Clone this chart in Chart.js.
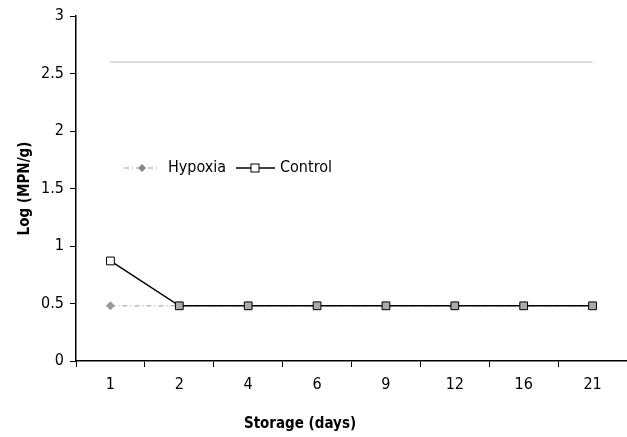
<!DOCTYPE html>
<html>
<head>
<meta charset="utf-8">
<script src="https://cdn.jsdelivr.net/npm/chart.js@4.4.0/dist/chart.umd.min.js"></script>
<style>
  html, body { margin: 0; padding: 0; background: #fff; overflow: hidden; }
  #wrap { width: 627px; height: 437px; position: relative; }
  canvas { display: block; }
</style>
</head>
<body>
<div id="wrap"><canvas id="chart"></canvas></div>
<script>
// data
const days = ['1', '2', '4', '6', '9', '12', '16', '21'];
const hypoxia = [0.48, 0.48, 0.48, 0.48, 0.48, 0.48, 0.48, 0.48];
const control = [0.87, 0.48, 0.48, 0.48, 0.48, 0.48, 0.48, 0.48];
const limitLine = [2.6, 2.6, 2.6, 2.6, 2.6, 2.6, 2.6, 2.6];
const yTicks = [0, 0.5, 1, 1.5, 2, 2.5, 3];

const FONT = "'Liberation Sans Narrow', 'Arial Narrow', 'DejaVu Sans Condensed', sans-serif";

// legend + x title drawn inside the canvas
const extras = {
    id: 'extras',
    afterDraw(chart) {
        const ctx = chart.ctx;
        const a = chart.chartArea;
        const y = 168;
        ctx.save();
        // Hypoxia sample
        ctx.strokeStyle = '#999';
        ctx.lineWidth = 1;
        ctx.setLineDash([5, 3, 1, 3]);
        ctx.beginPath();
        ctx.moveTo(a.left + 48, y);
        ctx.lineTo(a.left + 84, y);
        ctx.stroke();
        ctx.setLineDash([]);
        ctx.fillStyle = '#888';
        ctx.beginPath();
        ctx.moveTo(a.left + 66, y - 4); ctx.lineTo(a.left + 70, y);
        ctx.lineTo(a.left + 66, y + 4); ctx.lineTo(a.left + 62, y);
        ctx.closePath(); ctx.fill();
        ctx.fillStyle = '#000';
        ctx.font = '16px ' + FONT;
        ctx.textBaseline = 'middle';
        ctx.fillText('Hypoxia', a.left + 92, y);
        // Control sample
        ctx.strokeStyle = '#000';
        ctx.lineWidth = 1.5;
        ctx.beginPath();
        ctx.moveTo(a.left + 160, y);
        ctx.lineTo(a.left + 199, y);
        ctx.stroke();
        ctx.fillStyle = '#fff';
        ctx.fillRect(a.left + 175, y - 4, 8, 8);
        ctx.lineWidth = 1;
        ctx.strokeRect(a.left + 175, y - 4, 8, 8);
        ctx.fillStyle = '#000';
        ctx.fillText('Control', a.left + 204, y);
        // x axis title
        ctx.font = 'bold 15px ' + FONT;
        ctx.textAlign = 'center';
        ctx.fillText('Storage (days)', 300, 424);
        ctx.restore();
    }
};

new Chart(document.getElementById('chart'), {
    type: 'line',
    data: {
        labels: days,
        datasets: [
            {
                label: 'Control',
                data: control,
                borderColor: '#000',
                borderWidth: 1.5,
                pointStyle: 'rect',
                pointRadius: 5.5,
                pointBorderColor: '#000',
                pointBorderWidth: 1,
                pointBackgroundColor: ctx => (control[ctx.dataIndex] === hypoxia[ctx.dataIndex] ? '#aaa' : '#fff'),
                tension: 0
            },
            {
                label: 'Hypoxia',
                data: hypoxia,
                borderColor: '#999',
                borderWidth: 1,
                borderDash: [5, 3, 1, 3],
                pointStyle: 'rectRot',
                pointRadius: 4,
                pointBorderColor: '#999',
                pointBackgroundColor: '#999',
                tension: 0
            },
            {
                label: 'limit',
                data: limitLine,
                borderColor: '#dcdcdc',
                borderWidth: 2,
                pointRadius: 0,
                tension: 0
            }
        ]
    },
    options: {
        responsive: true,
        maintainAspectRatio: false,
        animation: false,
        layout: { autoPadding: false, padding: { top: 16, right: 0, bottom: 0, left: 0 } },
        plugins: { legend: { display: false }, tooltip: { enabled: false } },
        scales: {
            x: {
                offset: true,
                grid: { offset: true, drawOnChartArea: false, color: '#000', tickLength: 6 },
                border: { color: '#000', width: 1.5 },
                ticks: { color: '#000', font: { family: FONT, size: 16 }, padding: 8 },
                afterFit(scale) { scale.height = 76; }
            },
            y: {
                min: 0,
                max: 3,
                afterBuildTicks(scale) { scale.ticks = yTicks.map(v => ({ value: v })); },
                grid: { drawOnChartArea: false, color: '#000', tickLength: 6 },
                border: { color: '#000', width: 1.5 },
                ticks: {
                    color: '#000',
                    font: { family: FONT, size: 16 },
                    padding: 6,
                    callback: v => String(v)
                },
                title: {
                    display: true,
                    text: 'Log (MPN/g)',
                    color: '#000',
                    font: { family: FONT, size: 15, weight: 'bold' },
                    padding: { top: 16, bottom: 0 }
                },
                afterFit(scale) { scale.width = 76; }
            }
        }
    },
    plugins: [extras]
});
</script>
</body>
</html>
